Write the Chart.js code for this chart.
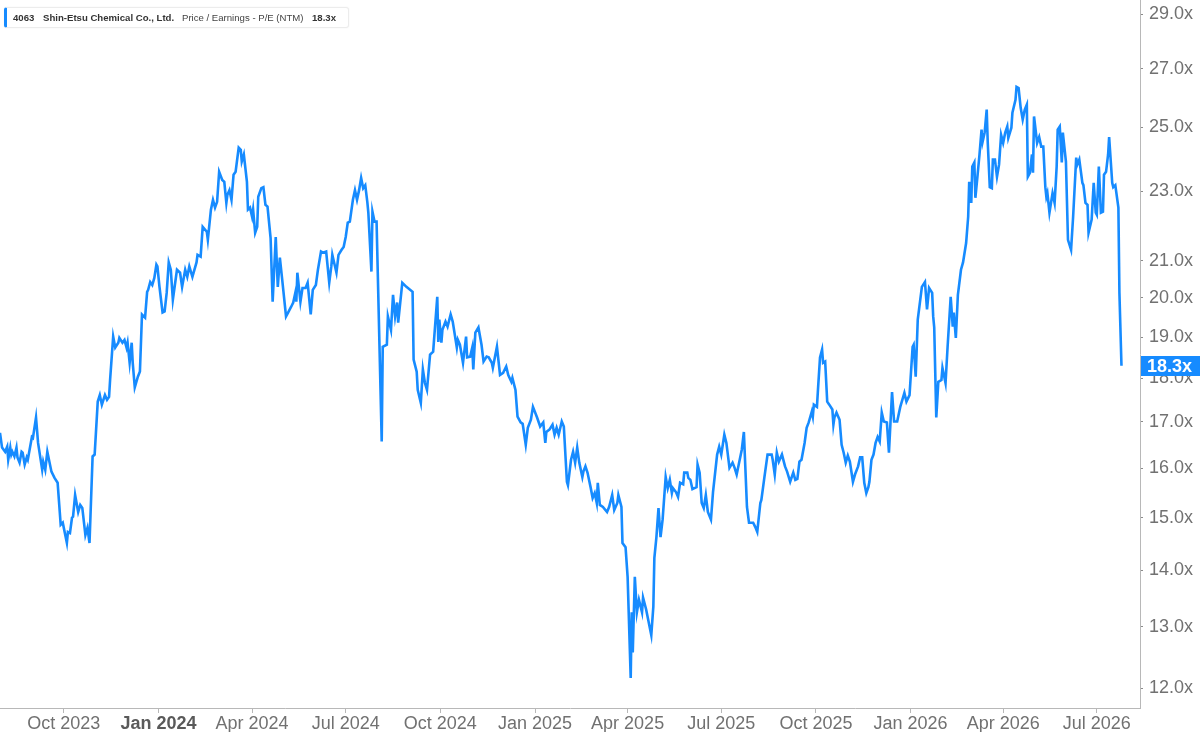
<!DOCTYPE html>
<html>
<head>
<meta charset="utf-8">
<script src="https://cdn.jsdelivr.net/npm/chart.js@4.4.1/dist/chart.umd.min.js"></script>
<style>
  html, body { margin: 0; padding: 0; background: #fff; }
  #wrap { position: relative; width: 1200px; height: 732px; }
  #legend {
    position: absolute; left: 4px; top: 7px; width: 341px; height: 19px;
    background: #fff; border: 1px solid #ececec; border-left: 3px solid #168bff;
    border-radius: 3px; font-family: "Liberation Sans", Arial, sans-serif; font-size: 9.6px;
    color: #333; box-shadow: 0 0 2px rgba(0,0,0,0.06);
  }
  #legend span { position: absolute; top: 4px; white-space: nowrap; }
  #legend .b { font-weight: bold; }
  #legend .m { color: #444; }
</style>
</head>
<body>
<div id="wrap">
  <canvas id="peChart" width="1200" height="732"></canvas>
  <div id="legend">
    <span class="b" id="lgTicker" style="left:6px"></span>
    <span class="b" id="lgName" style="left:36px"></span>
    <span class="m" id="lgMetric" style="left:175px"></span>
    <span class="b" id="lgValue" style="left:305px"></span>
  </div>
</div>
<script>
  // series info
  const ticker = '4063';
  const companyName = 'Shin-Etsu Chemical Co., Ltd.';
  const metricName = 'Price / Earnings - P/E (NTM)';

  // x values are days counted from startDate
  const startDate = '2023-07-31';
  const axisEnd = '2026-08-12';

  const dayOffsets = [
    0, 2, 5, 7, 8, 10, 11, 12, 14, 16,
    17, 19, 21, 22, 24, 26, 27, 31, 32, 35,
    37, 41, 42, 44, 46, 50, 53, 56, 59, 61,
    65, 66, 68, 70, 71, 73, 76, 78, 80, 83,
    85, 87, 90, 92, 95, 97, 99, 102, 104, 106,
    107, 110, 112, 115, 116, 119, 121, 123, 124, 126,
    128, 129, 131, 134, 136, 138, 141, 143, 144, 146,
    148, 150, 152, 153, 155, 158, 160, 162, 164, 166,
    168, 172, 175, 177, 180, 182, 184, 187, 191, 192,
    195, 197, 201, 202, 205, 207, 209, 211, 213, 216,
    218, 220, 221, 223, 225, 227, 229, 232, 234, 235,
    237, 240, 241, 243, 245, 246, 248, 250, 251, 254,
    256, 258, 260, 263, 265, 268, 270, 272, 274, 278,
    280, 283, 285, 287, 288, 289, 292, 294, 297, 299,
    302, 304, 307, 309, 312, 314, 317, 320, 322, 323,
    327, 329, 332, 334, 336, 338, 340, 343, 345, 347,
    349, 351, 353, 355, 357, 358, 361, 362, 364, 366,
    371, 372, 376, 377, 380, 382, 384, 386, 387, 391,
    395, 401, 402, 405, 406, 409, 411, 413, 415, 418,
    421, 425, 426, 427, 429, 430, 433, 435, 438, 440,
    444, 445, 447, 450, 453, 454, 457, 459, 460, 462,
    465, 468, 470, 473, 475, 478, 479, 483, 486, 489,
    492, 494, 497, 498, 501, 503, 506, 508, 511, 513,
    516, 518, 522, 525, 528, 530, 531, 534, 537, 539,
    541, 543, 546, 548, 551, 552, 555, 557, 559, 561,
    563, 566, 567, 569, 571, 574, 576, 578, 580, 581,
    583, 586, 590, 592, 595, 597, 600, 601, 604, 605,
    608, 610, 613, 614, 615, 617, 619, 621, 624, 625,
    628, 630, 633, 635, 636, 638, 640, 642, 644, 647,
    649, 651, 653, 654, 657, 659, 661, 664, 665, 668,
    669, 671, 673, 675, 677, 678, 680, 682, 684, 686,
    688, 691, 693, 697, 699, 701, 704, 706, 709, 712,
    714, 716, 718, 721, 723, 726, 728, 732, 734, 736,
    739, 740, 743, 746, 750, 751, 753, 755, 757, 760,
    763, 765, 768, 771, 773, 775, 777, 779, 782, 784,
    786, 789, 790, 791, 794, 795, 797, 799, 800, 802,
    804, 806, 809, 810, 811, 813, 816, 818, 820, 822,
    824, 826, 829, 831, 834, 836, 838, 840, 842, 844,
    845, 847, 849, 851, 853, 855, 857, 859, 862, 864,
    867, 869, 872, 875, 877, 879, 881, 884, 887, 888,
    890, 892, 896, 899, 901, 903, 906, 907, 908, 910,
    912, 915, 916, 919, 921, 924, 926, 927, 929, 931,
    934, 936, 939, 941, 942, 944, 945, 947, 948, 950,
    952, 954, 955, 957, 959, 960, 962, 964, 965, 967,
    969, 971, 973, 975, 977, 979, 980, 983, 984, 987,
    988, 990, 992, 994, 996, 998, 999, 1001, 1003, 1004,
    1005, 1008, 1010, 1012, 1014, 1016, 1017, 1018, 1020, 1023,
    1025, 1027, 1028, 1030, 1032, 1033, 1036, 1038, 1041, 1043,
    1046, 1047, 1049, 1052, 1053, 1055, 1057, 1058, 1061, 1063,
    1065, 1066, 1068, 1070, 1072, 1073, 1075, 1077, 1078, 1081,
    1082, 1084, 1087, 1088, 1090
  ];

  const peValues = [
    16.76, 16.44, 16.35, 16.46, 16.18, 16.44, 16.29, 16.35, 16.25, 16.44,
    16.23, 16.12, 16.35, 16.33, 16.08, 16.23, 16.18, 16.67, 16.65, 17.10,
    16.54, 15.97, 16.14, 15.97, 16.35, 15.93, 15.80, 15.70, 14.86, 14.90,
    14.51, 14.72, 14.70, 15.00, 15.02, 15.45, 15.11, 15.25, 15.19, 14.66,
    14.80, 14.51, 16.25, 16.29, 17.46, 17.61, 17.39, 17.61, 17.50, 17.57,
    17.96, 19.01, 18.74, 18.86, 18.98, 18.86, 18.93, 18.74, 18.86, 18.37,
    18.86, 18.37, 17.79, 18.04, 18.16, 19.57, 19.49, 20.16, 20.21, 20.42,
    20.34, 20.53, 20.89, 20.84, 20.29, 19.62, 19.65, 20.13, 20.95, 20.75,
    19.95, 20.75, 20.67, 20.29, 20.75, 20.56, 20.84, 20.56, 20.95, 21.16,
    21.11, 21.95, 21.81, 21.58, 22.45, 22.74, 22.51, 22.68, 23.59, 23.34,
    23.28, 22.65, 22.89, 23.03, 22.74, 23.50, 23.59, 24.35, 24.28, 23.91,
    24.13, 23.28, 22.45, 22.51, 22.24, 22.45, 21.78, 21.95, 22.83, 23.09,
    23.12, 22.59, 22.54, 21.63, 19.90, 21.66, 20.29, 21.08, 20.56, 19.52,
    19.62, 19.77, 19.88, 20.13, 19.90, 20.67, 19.90, 20.26, 20.26, 20.40,
    19.57, 20.21, 20.34, 20.75, 21.25, 21.22, 21.25, 20.40, 20.84, 21.16,
    20.67, 21.16, 21.30, 21.38, 21.66, 22.07, 22.10, 22.74, 23.03, 22.74,
    23.03, 23.40, 23.09, 23.18, 22.68, 22.36, 20.70, 22.39, 22.10, 22.10,
    16.57, 18.76, 18.81, 19.52, 19.18, 20.08, 19.52, 19.88, 19.36, 20.40,
    20.29, 20.16, 18.45, 18.16, 17.73, 17.43, 18.21, 17.89, 17.73, 18.57,
    18.64, 20.03, 18.88, 19.44, 18.86, 19.18, 19.39, 19.26, 19.57, 19.39,
    18.74, 18.93, 18.81, 18.37, 19.01, 18.50, 18.52, 18.74, 18.21, 19.11,
    19.24, 18.81, 18.40, 18.52, 18.50, 18.37, 18.25, 18.76, 18.08, 18.13,
    18.28, 18.08, 17.92, 18.01, 17.73, 17.12, 16.99, 16.96, 16.50, 16.87,
    17.05, 17.34, 17.10, 16.90, 16.99, 16.54, 16.78, 16.83, 16.94, 16.72,
    16.87, 16.72, 17.01, 16.90, 15.72, 15.65, 16.18, 16.35, 16.12, 16.44,
    16.12, 15.82, 15.93, 16.04, 15.91, 15.61, 15.39, 15.49, 15.29, 15.70,
    15.25, 15.21, 15.11, 15.21, 15.45, 15.15, 15.29, 15.45, 15.21, 14.51,
    14.43, 13.88, 12.16, 13.25, 12.57, 13.88, 13.25, 13.47, 13.25, 13.51,
    13.30, 13.12, 12.86, 13.35, 14.23, 14.62, 15.19, 14.62, 14.96, 15.82,
    15.59, 15.76, 15.49, 15.59, 15.51, 15.41, 15.70, 15.67, 15.91, 15.91,
    15.80, 15.76, 15.57, 15.59, 15.61, 16.08, 15.91, 15.29, 15.19, 15.45,
    15.11, 14.96, 15.51, 16.29, 16.46, 16.29, 16.72, 16.54, 16.01, 16.12,
    16.01, 15.87, 16.08, 16.40, 16.78, 15.21, 14.90, 14.90, 14.82, 14.72,
    15.29, 15.35, 15.82, 16.29, 16.29, 16.18, 15.87, 16.33, 16.14, 16.29,
    16.04, 15.93, 15.72, 15.91, 15.76, 15.78, 16.14, 16.18, 16.54, 16.87,
    16.99, 17.23, 17.12, 17.39, 17.34, 17.73, 18.50, 18.69, 18.37, 18.40,
    17.46, 17.39, 17.28, 16.94, 17.10, 17.21, 17.05, 16.50, 16.33, 16.12,
    16.27, 16.14, 15.72, 15.87, 16.04, 16.23, 16.23, 15.70, 15.49, 15.61,
    15.72, 16.18, 16.29, 16.54, 16.67, 16.57, 17.21, 17.01, 16.99, 16.33,
    17.68, 17.01, 17.01, 17.34, 17.50, 17.66, 17.46, 17.61, 18.76, 18.81,
    18.04, 19.44, 20.29, 20.42, 19.70, 20.26, 20.13, 19.52, 19.24, 17.10,
    17.92, 17.96, 18.25, 17.89, 18.76, 20.03, 19.26, 19.62, 18.98, 20.08,
    20.75, 20.95, 21.49, 22.24, 23.28, 22.65, 23.75, 23.88, 22.80, 23.44,
    24.13, 24.93, 24.53, 24.83, 25.59, 24.53, 23.12, 23.09, 23.97, 23.97,
    23.44, 23.81, 24.76, 24.50, 24.83, 25.03, 24.66, 24.99, 25.49, 25.92,
    26.36, 26.32, 25.66, 25.26, 25.59, 25.76, 23.44, 23.56, 24.13, 23.56,
    25.36, 24.50, 24.69, 24.38, 24.38, 23.12, 22.83, 22.94, 22.36, 22.94,
    22.65, 23.75, 24.93, 25.03, 23.88, 24.83, 23.91, 21.58, 21.30, 22.24,
    24.03, 23.81, 23.97, 23.25, 23.18, 22.65, 22.59, 21.78, 22.16, 23.25,
    22.36, 22.30, 23.75, 22.36, 22.39, 23.50, 23.59, 24.13, 24.69, 23.25,
    23.12, 23.18, 22.51, 20.13, 18.30
  ];

  // axis ticks
  const tickDates = ['2023-10-01', '2024-01-01', '2024-04-01', '2024-07-01', '2024-10-01', '2025-01-01',
    '2025-04-01', '2025-07-01', '2025-10-01', '2026-01-01', '2026-04-01', '2026-07-01'];
  const tickLabels = ['Oct 2023', 'Jan 2024', 'Apr 2024', 'Jul 2024', 'Oct 2024', 'Jan 2025',
    'Apr 2025', 'Jul 2025', 'Oct 2025', 'Jan 2026', 'Apr 2026', 'Jul 2026'];
  const majorLabel = 'Jan 2024';
  const yTicks = [12, 13, 14, 15, 16, 17, 18, 19, 20, 21, 23, 25, 27, 29];
  const yMin = 11.69;
  const yMax = 29.54;

  const lineColor = '#168bff';
  const fontFamily = '"Liberation Sans", Arial, sans-serif';

  function dayOf(s) {
    return (Date.parse(s) - Date.parse(startDate)) / 86400000;
  }

  const lastValue = peValues[peValues.length - 1];
  const fmt = v => Number(v).toFixed(1) + 'x';

  document.getElementById('lgTicker').textContent = ticker;
  document.getElementById('lgName').textContent = companyName;
  document.getElementById('lgMetric').textContent = metricName;
  document.getElementById('lgValue').textContent = fmt(lastValue);

  // blue box with the latest value on the right axis
  const lastValueTag = {
    id: 'lastValueTag',
    afterDraw(chart) {
      const ctx = chart.ctx;
      const y = chart.scales.y.getPixelForValue(lastValue);
      const left = chart.chartArea.right + 1;
      ctx.save();
      ctx.fillStyle = lineColor;
      ctx.fillRect(left, Math.round(y) - 10, chart.width - left, 20);
      ctx.fillStyle = '#fff';
      ctx.font = 'bold 18px ' + fontFamily;
      ctx.textBaseline = 'middle';
      ctx.textAlign = 'left';
      ctx.fillText(fmt(lastValue), left + 6, Math.round(y) + 1);
      ctx.restore();
    }
  };

  const ctx = document.getElementById('peChart').getContext('2d');
  const peChart = new Chart(ctx, {
    type: 'line',
    data: {
      datasets: [{
        label: metricName,
        data: dayOffsets.map((d, i) => ({ x: d, y: peValues[i] })),
        borderColor: lineColor,
        borderWidth: 2.6,
        pointRadius: 0,
        tension: 0,
        fill: false
      }]
    },
    options: {
      responsive: false,
      animation: false,
      layout: { padding: 0 },
      plugins: { legend: { display: false }, tooltip: { enabled: false } },
      scales: {
        x: {
          type: 'linear',
          min: 0,
          max: dayOf(axisEnd),
          afterBuildTicks: s => { s.ticks = tickDates.map(d => ({ value: dayOf(d) })); },
          afterFit: s => { s.height = 24; s.paddingLeft = 0; s.paddingRight = 0; },
          grid: { drawOnChartArea: false, drawTicks: true, tickLength: 5, tickColor: '#b8b8b8' },
          border: { display: true, color: '#b8b8b8', width: 1 },
          ticks: {
            autoSkip: false,
            maxRotation: 0,
            padding: 0,
            callback: (v, i) => tickLabels[i],
            color: c => (tickLabels[c.index] === majorLabel ? '#5a5a5a' : '#717171'),
            font: c => (tickLabels[c.index] === majorLabel
              ? { family: fontFamily, size: 18, weight: 'bold' }
              : { family: fontFamily, size: 18 })
          }
        },
        y: {
          type: 'logarithmic',
          position: 'right',
          min: yMin,
          max: yMax,
          afterBuildTicks: s => { s.ticks = yTicks.map(v => ({ value: v })); },
          afterFit: s => { s.width = 60; s.paddingTop = 0; s.paddingBottom = 0; },
          grid: { drawOnChartArea: false, drawTicks: true, tickLength: 3, tickColor: '#8a8a8a' },
          border: { display: true, color: '#b8b8b8', width: 1 },
          ticks: {
            autoSkip: false,
            padding: 6,
            color: '#717171',
            font: { family: fontFamily, size: 18 },
            callback: v => fmt(v)
          }
        }
      }
    },
    plugins: [lastValueTag]
  });
</script>
</body>
</html>
